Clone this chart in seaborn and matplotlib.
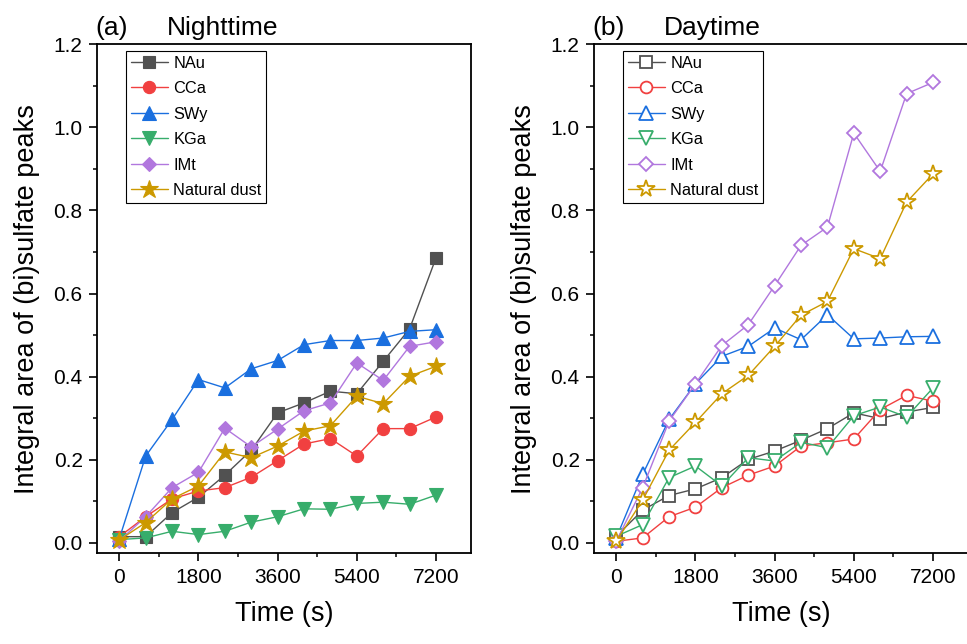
import numpy as np
import pandas as pd
import matplotlib
matplotlib.use("Agg")
import matplotlib.pyplot as plt
from matplotlib.ticker import MultipleLocator
import seaborn as sns

# ---------------- data ----------------
time_s = [0, 600, 1200, 1800, 2400, 3000, 3600, 4200, 4800, 5400, 6000, 6600, 7200]
series_names = ["NAu", "CCa", "SWy", "KGa", "IMt", "Natural dust"]

night_NAu = [0.015, 0.015, 0.073, 0.110, 0.163, 0.223, 0.313, 0.337, 0.365, 0.359, 0.437, 0.515, 0.686]
night_CCa = [0.015, 0.063, 0.106, 0.125, 0.133, 0.158, 0.198, 0.238, 0.251, 0.209, 0.275, 0.275, 0.303]
night_SWy = [0.010, 0.209, 0.297, 0.393, 0.373, 0.419, 0.439, 0.477, 0.487, 0.487, 0.493, 0.509, 0.513]
night_KGa = [0.008, 0.012, 0.028, 0.020, 0.028, 0.050, 0.063, 0.082, 0.081, 0.095, 0.098, 0.093, 0.115]
night_IMt = [0.005, 0.063, 0.133, 0.170, 0.276, 0.231, 0.274, 0.318, 0.337, 0.433, 0.391, 0.473, 0.484]
night_dust = [0.007, 0.049, 0.106, 0.137, 0.219, 0.205, 0.233, 0.269, 0.282, 0.353, 0.335, 0.401, 0.425]

day_NAu = [0.016, 0.079, 0.114, 0.130, 0.157, 0.201, 0.221, 0.247, 0.275, 0.313, 0.299, 0.315, 0.326]
day_CCa = [0.004, 0.012, 0.063, 0.086, 0.133, 0.163, 0.185, 0.233, 0.241, 0.250, 0.321, 0.355, 0.341]
day_SWy = [0.012, 0.165, 0.297, 0.383, 0.449, 0.473, 0.517, 0.489, 0.549, 0.491, 0.493, 0.496, 0.497]
day_KGa = [0.016, 0.044, 0.157, 0.185, 0.137, 0.205, 0.197, 0.242, 0.229, 0.306, 0.327, 0.303, 0.373]
day_IMt = [0.004, 0.133, 0.293, 0.383, 0.475, 0.525, 0.619, 0.716, 0.760, 0.986, 0.894, 1.081, 1.108]
day_dust = [0.004, 0.103, 0.223, 0.290, 0.359, 0.403, 0.473, 0.548, 0.581, 0.708, 0.684, 0.820, 0.888]

x_ticks = [0, 1800, 3600, 5400, 7200]
y_ticks = [0.0, 0.2, 0.4, 0.6, 0.8, 1.0, 1.2]
panel_tags = ["(a)", "(b)"]
panel_titles = ["Nighttime", "Daytime"]

# ---------------- style ----------------
colors = ["#515151", "#F14040", "#1A6FDF", "#37AD6B", "#B177DE", "#CC9900"]
markers = ["s", "o", "^", "v", "D", "*"]
msizes = [8.5, 8.8, 9.5, 9.5, 7.3, 13.5]
msizes_open = [8.0, 8.5, 9.5, 9.5, 7.0, 13.0]

sns.set_style("ticks")
plt.rcParams["font.family"] = ["Liberation Sans", "DejaVu Sans"]
plt.rcParams["axes.linewidth"] = 1.3
for k in ("text.color", "axes.labelcolor", "xtick.color", "ytick.color", "axes.edgecolor"):
    plt.rcParams[k] = "black"

night = [night_NAu, night_CCa, night_SWy, night_KGa, night_IMt, night_dust]
day = [day_NAu, day_CCa, day_SWy, day_KGa, day_IMt, day_dust]

frames = []
for panel, vals in (("night", night), ("day", day)):
    for name, v in zip(series_names, vals):
        frames.append(pd.DataFrame({"panel": panel, "series": name, "time": time_s, "value": v}))
df = pd.concat(frames, ignore_index=True)

W, H = 967, 644
fig = plt.figure(figsize=(W / 100, H / 100), dpi=100)
ax_w = (471.2 - 97.3) / W
ax_b = 1 - 553.3 / H
ax_h = (553.3 - 44.2) / H
ax1 = fig.add_axes([97.3 / W, ax_b, ax_w, ax_h])
ax2 = fig.add_axes([594.3 / W, ax_b, ax_w, ax_h])

for ax, panel, filled in ((ax1, "night", True), (ax2, "day", False)):
    for i, name in enumerate(series_names):
        sub = df[(df.panel == panel) & (df.series == name)]
        sns.lineplot(
            data=sub, x="time", y="value", ax=ax,
            color=colors[i], linewidth=1.0,
            marker=markers[i],
            markersize=msizes[i] if filled else msizes_open[i],
            markerfacecolor=colors[i] if filled else "white",
            markeredgecolor=colors[i],
            markeredgewidth=0.8 if filled else 1.3,
            label=name, errorbar=None, legend=False,
        )
    ax.set_xlim(-500, 8000)
    ax.set_ylim(-0.025, 1.2)
    ax.set_xticks(x_ticks)
    ax.set_xticklabels([str(t) for t in x_ticks])
    ax.set_yticks(y_ticks)
    ax.set_yticklabels([f"{t:.1f}" for t in y_ticks])
    ax.xaxis.set_minor_locator(MultipleLocator(900))
    ax.yaxis.set_minor_locator(MultipleLocator(0.1))
    ax.tick_params(which="major", direction="out", length=5.5, width=1.2, labelsize=15, pad=5,
                   colors="black")
    ax.tick_params(which="minor", direction="out", length=3.2, width=1.1, colors="black")
    for s in ax.spines.values():
        s.set_visible(True)
        s.set_linewidth(1.3)
        s.set_color("black")
    ax.set_xlabel("Time (s)", fontsize=19.5, labelpad=10, color="black")
    ax.set_ylabel("Integral area of (bi)sulfate peaks", fontsize=19.5, labelpad=10, color="black")
    leg = ax.legend(loc="upper left", bbox_to_anchor=(0.076, 0.987), fontsize=11.8,
                    frameon=True, fancybox=False, framealpha=1, edgecolor="black",
                    handlelength=2.3, handletextpad=0.3, labelspacing=0.64,
                    borderpad=0.3, borderaxespad=0)
    leg.get_frame().set_linewidth(0.8)
    for t in leg.get_texts():
        t.set_color("black")

for ax, tag, title in zip((ax1, ax2), panel_tags, panel_titles):
    ax.text(-0.006, 1.018, tag, transform=ax.transAxes, fontsize=19,
            ha="left", va="baseline", color="black")
    ax.text(0.186, 1.018, title, transform=ax.transAxes, fontsize=19,
            ha="left", va="baseline", color="black")

fig.savefig("out.png", dpi=100)
